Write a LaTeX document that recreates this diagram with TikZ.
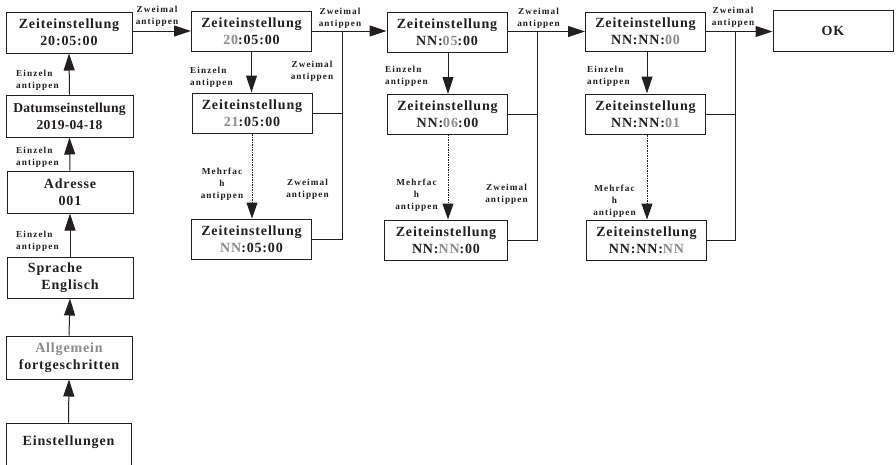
\documentclass[tikz,border=0pt]{standalone}
\usepackage{fontspec}
\setmainfont{Liberation Serif}[LetterSpace=6]
\newfontfamily\lblfont{Liberation Serif}[LetterSpace=12]
\usetikzlibrary{arrows.meta}
\definecolor{gtxt}{RGB}{140,140,140}
\definecolor{ln}{RGB}{35,31,32}
\tikzset{
  box/.style={draw=ln, line width=1pt, minimum width=120pt, minimum height=40pt, inner sep=0pt,
    align=center, font=\fontsize{14}{17}\selectfont\bfseries, text=ln},
  lbl/.style={inner sep=0pt, align=center, font=\lblfont\fontsize{9.2}{12}\selectfont\bfseries, text=ln},
  lbll/.style={lbl, align=left, anchor=west},
  conn/.style={draw=ln, line width=1pt},
  arr/.style={conn, -{Triangle[length=17pt,width=11pt]}},
  dd/.style={conn, dash pattern=on 2.2pt off 1pt on 0.8pt off 1pt},
  ddarr/.style={dd, -{Triangle[length=16pt,width=11pt]}}
}
\newcommand{\g}[1]{{\color{gtxt}#1}}
\begin{document}
\begin{tikzpicture}[x=1pt,y=-1pt]
\clip (0,0) rectangle (896,464);
\fill[white] (0,0) rectangle (896,464);
% left column
\node[box, minimum width=126pt, minimum height=41pt] (z0) at (69,32.5) {Zeiteinstellung\\20:05:00};
\node[box, minimum width=127pt, minimum height=42pt, font=\fontsize{13.6}{17}\selectfont\bfseries\addfontfeatures{LetterSpace=2}] (dat) at (69.5,116) {Datumseinstellung\\2019-04-18};
\node[box, minimum width=126pt, minimum height=42pt] (adr) at (70,192) {Adresse\\001};
\node[box, minimum width=126pt, minimum height=41pt] (spr) at (70,277.5) {Sprache\hspace*{30pt}\\Englisch};
\node[box, minimum width=126pt, minimum height=43pt] (allg) at (69,357.5) {\g{Allgemein}\\fortgeschritten};
\node[box, minimum width=125pt, minimum height=52pt] (ein) at (68.5,449) {};
\node[box, draw=none] (eintxt) at (68.5,442) {Einstellungen};
\draw[arr] (ein.north) -- (allg.south);
\draw[arr] (allg.north) -- (spr.south);
\draw[arr] (spr.north) -- (adr.south);
\draw[arr] (adr.north) -- (dat.south);
\draw[arr] (dat.north) -- (z0.south);
\node[lbll] (l1) at (16,80.5) {Einzeln\\antippen};
\node[lbll] (l2) at (16,157.5) {Einzeln\\antippen};
\node[lbll] (l3) at (16,241.5) {Einzeln\\antippen};
% column 2
\node[box] (a) at (251.5,31) {Zeiteinstellung\\\g{20}:05:00};
\node[box] (b) at (252,113) {Zeiteinstellung\\\g{21}:05:00};
\node[box] (c) at (251.5,239) {Zeiteinstellung\\\g{NN}:05:00};
% column 3
\node[box] (d) at (447,32) {Zeiteinstellung\\NN:\g{05}:00};
\node[box] (e) at (447.5,114) {Zeiteinstellung\\NN:\g{06}:00};
\node[box, minimum width=123pt] (f) at (446,240) {Zeiteinstellung\\NN:\g{NN}:00};
% column 4
\node[box, minimum height=39pt] (gg) at (645.5,31.5) {Zeiteinstellung\\NN:NN:\g{00}};
\node[box] (h) at (645.5,114) {Zeiteinstellung\\NN:NN:\g{01}};
\node[box] (i) at (646.5,240) {Zeiteinstellung\\NN:NN:\g{NN}};
\node[box, minimum height=41pt] (ok) at (833,30.5) {OK};
% horizontal arrows
\draw[arr] (z0.east |- a.west) -- (a.west);
\draw[arr] (a.east) -- (a.east -| d.west);
\draw[arr] (d.east |- gg.west) -- (gg.west);
\draw[arr] (gg.east) -- (gg.east -| ok.west);
% bus column 2
\coordinate (j2) at (342,31);
\draw[conn] (c.east) -| (j2);
\draw[conn] (b.east) -- (b.east -| j2);
\draw[arr] (a.south) -- (a.south |- b.north);
\draw[ddarr] (b.south) -- (b.south |- c.north);
% bus column 3
\coordinate (j3) at (537,31.5);
\draw[conn] (f.east) -| (j3);
\draw[conn] (e.east) -- (e.east -| j3);
\draw[arr] (d.south -| 448,0) -- (448,94);
\draw[ddarr] (448,134) -- (f.north -| 448,0);
% bus column 4
\coordinate (j4) at (735,31.5);
\draw[conn] (i.east) -| (j4);
\draw[conn] (h.east) -- (h.east -| j4);
\draw[arr] (gg.south -| 647,0) -- (h.north -| 647,0);
\draw[ddarr] (h.south -| 647,0) -- (i.north -| 647,0);
% labels
\node[lbl] (t1) at (157,16) {Zweimal\\antippen};
\node[lbl] (t2) at (340,18) {Zweimal\\antippen};
\node[lbl] (t3) at (538.5,18) {Zweimal\\antippen};
\node[lbl] (t4) at (733,17.5) {Zweimal\\antippen};
\node[lbl] (m2) at (312,71) {Zweimal\\antippen};
\node[lbl] (n2) at (307.5,189) {Zweimal\\antippen};
\node[lbl] (n3) at (506.5,194) {Zweimal\\antippen};
\node[lbll] (e2) at (190,77.5) {Einzeln\\antippen};
\node[lbll] (e3) at (385,76) {Einzeln\\antippen};
\node[lbll] (e4) at (587,76) {Einzeln\\antippen};
\node[lbl] (h2) at (222,184) {Mehrfac\\h\\antippen};
\node[lbl] (h3) at (416.5,195) {Mehrfac\\h\\antippen};
\node[lbl] (h4) at (614.5,201) {Mehrfac\\h\\antippen};
\end{tikzpicture}
\end{document}
